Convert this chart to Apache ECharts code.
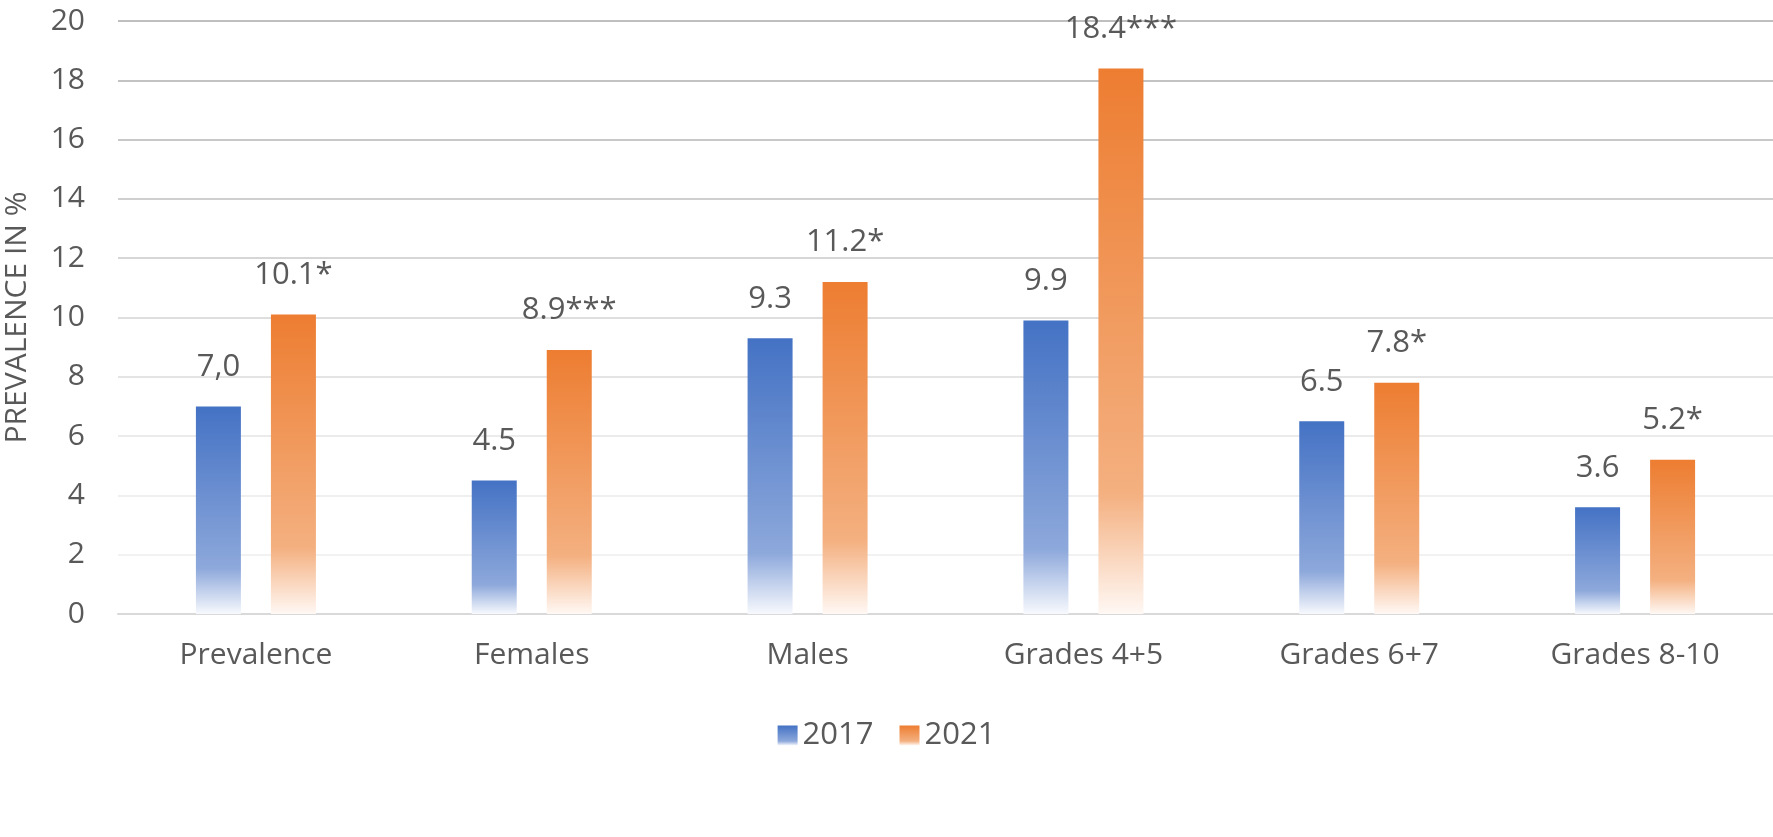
<!DOCTYPE html>
<html>
<head>
<meta charset="utf-8">
<script src="https://cdn.jsdelivr.net/npm/echarts@6/dist/echarts.min.js"></script>
<style>
html,body{margin:0;padding:0;background:#fff;}
#main{width:1773px;height:837px;}
</style>
</head>
<body>
<div id="main"></div>
<script>
const categories = ['Prevalence', 'Females', 'Males', 'Grades 4+5', 'Grades 6+7', 'Grades 8-10'];
const values2017 = [7.0, 4.5, 9.3, 9.9, 6.5, 3.6];
const values2021 = [10.1, 8.9, 11.2, 18.4, 7.8, 5.2];
const labels2017 = ['7,0', '4.5', '9.3', '9.9', '6.5', '3.6'];
const labels2021 = ['10.1*', '8.9***', '11.2*', '18.4***', '7.8*', '5.2*'];
const seriesNames = ['2017', '2021'];
const yTicks = { min: 0, max: 20, interval: 2 };
const yAxisTitle = 'PREVALENCE IN %';

const FONT = '"Open Sans", sans-serif';
const TXT = '#595959';

function grad(top, mid, bottom) {
  return new echarts.graphic.LinearGradient(0, 0, 0, 1, [
    { offset: 0, color: top },
    { offset: 0.78, color: mid },
    { offset: 1, color: bottom }
  ]);
}
const blueGrad = grad('#4472C4', '#8DA8DB', '#F7F9FD');
const orangeGrad = grad('#ED7D31', '#F4B080', '#FFF8F4');

const chart = echarts.init(document.getElementById('main'), null, { renderer: 'canvas' });
chart.setOption({
  animation: false,
  backgroundColor: '#ffffff',
  textStyle: { fontFamily: FONT },
  grid: { left: 118, right: 0, top: 21, bottom: 223, containLabel: false, outerBoundsMode: 'none' },
  legend: {
    data: seriesNames,
    bottom: 81,
    left: 'center',
    icon: 'rect',
    itemWidth: 20,
    itemHeight: 20,
    itemGap: 26,
    textStyle: { color: TXT, fontSize: 31, fontFamily: FONT }
  },
  xAxis: {
    type: 'category',
    data: categories,
    axisLine: { lineStyle: { color: '#D9D9D9', width: 2 } },
    axisTick: { show: false },
    axisLabel: { color: TXT, fontSize: 30, margin: 26, fontFamily: FONT }
  },
  yAxis: {
    type: 'value',
    min: yTicks.min,
    max: yTicks.max,
    interval: yTicks.interval,
    name: yAxisTitle,
    nameLocation: 'middle',
    nameGap: 86,
    nameTextStyle: { color: TXT, fontSize: 30, fontFamily: FONT },
    axisLine: { show: false },
    axisTick: { show: false },
    axisLabel: { color: TXT, fontSize: 30, margin: 33, fontFamily: FONT },
    splitLine: {
      lineStyle: {
        width: 2,
        color: ['#D9D9D9', '#F2F2F2', '#EFEFEF', '#EBEBEB', '#E4E4E4', '#DEDEDE', '#D6D6D6', '#CFCFCF', '#C8C8C8', '#C3C3C3', '#BFBFBF']
      }
    }
  },
  series: [
    {
      name: seriesNames[0],
      type: 'bar',
      data: values2017,
      barWidth: 45,
      barGap: '66.7%',
      itemStyle: { color: blueGrad },
      label: {
        show: true, position: 'top', distance: 24,
        color: TXT, fontSize: 31, fontFamily: FONT,
        formatter: p => labels2017[p.dataIndex]
      }
    },
    {
      name: seriesNames[1],
      type: 'bar',
      data: values2021,
      barWidth: 45,
      barGap: '66.7%',
      itemStyle: { color: orangeGrad },
      label: {
        show: true, position: 'top', distance: 24,
        color: TXT, fontSize: 31, fontFamily: FONT,
        formatter: p => labels2021[p.dataIndex]
      }
    }
  ]
});
</script>
</body>
</html>
